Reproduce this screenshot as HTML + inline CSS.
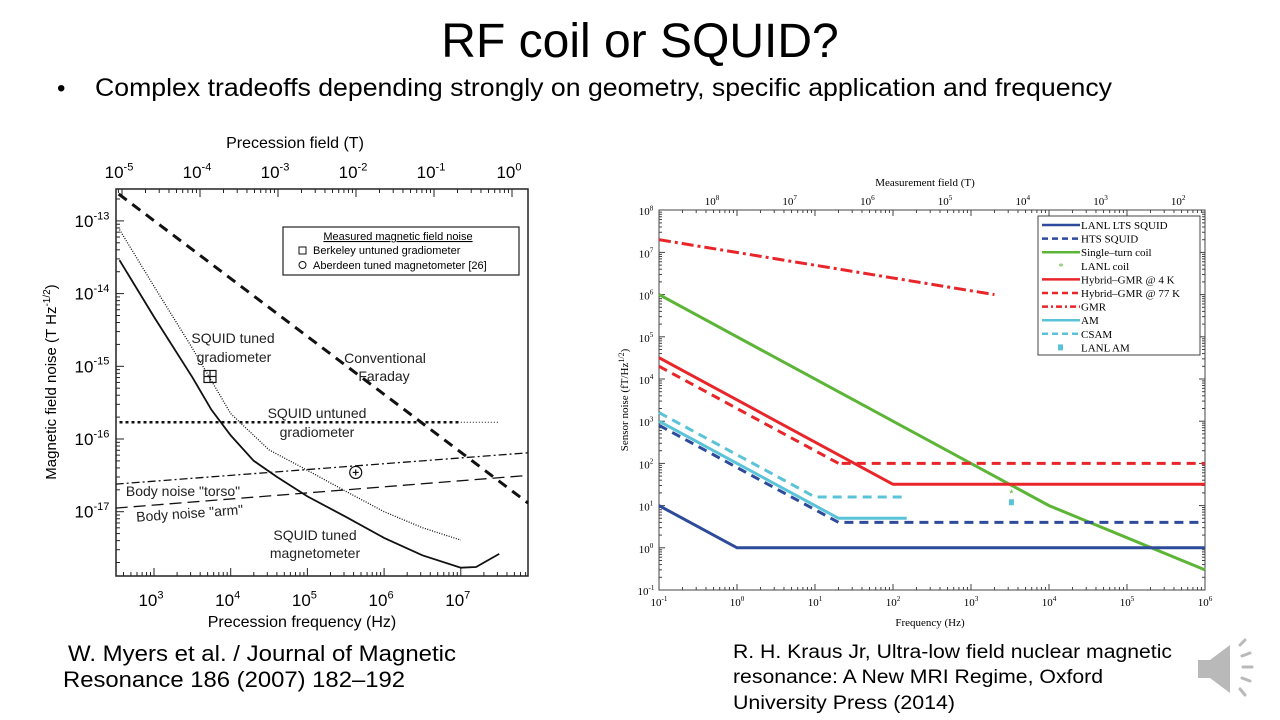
<!DOCTYPE html>
<html><head><meta charset="utf-8"><style>
body{margin:0;width:1280px;height:720px;background:#fff;overflow:hidden;font-family:"Liberation Sans",sans-serif}
svg{position:absolute;left:0;top:0}
</style></head><body>
<svg id="s" width="1280" height="720" xmlns="http://www.w3.org/2000/svg">
<text x="640" y="57" font-size="48" text-anchor="middle" fill="#000">RF coil or SQUID?</text>
<text x="57" y="96" font-size="24">•</text>
<text x="95" y="96" font-size="25" textLength="1017" lengthAdjust="spacingAndGlyphs">Complex tradeoffs depending strongly on geometry, specific application and frequency</text>
<g font-size="22"><text x="68" y="661" textLength="388" lengthAdjust="spacingAndGlyphs">W. Myers et al. / Journal of Magnetic</text><text x="63" y="687" textLength="342" lengthAdjust="spacingAndGlyphs">Resonance 186 (2007) 182–192</text></g>
<g font-size="19"><text x="733" y="658" textLength="439" lengthAdjust="spacingAndGlyphs">R. H. Kraus Jr, Ultra-low field nuclear magnetic</text><text x="733" y="683" textLength="370" lengthAdjust="spacingAndGlyphs">resonance: A New MRI Regime, Oxford</text><text x="733" y="709" textLength="222" lengthAdjust="spacingAndGlyphs">University Press (2014)</text></g>
<g fill="#b9b9b9" stroke="#b9b9b9" stroke-linecap="round">
<polygon points="1198,660 1210,660 1230,645 1230,693 1210,678 1198,678" stroke="none"/>
<g stroke-width="3"><line x1="1240" y1="645" x2="1245" y2="640"/><line x1="1242" y1="656" x2="1250" y2="653"/><line x1="1243" y1="667" x2="1252" y2="667"/><line x1="1242" y1="678" x2="1250" y2="681"/><line x1="1240" y1="689" x2="1245" y2="695"/></g></g>
<g id="L"></g>
<g id="R"></g>
</svg>
<script>
// ---------- LEFT CHART DATA (log10 values) ----------
const lFaraday=[[2.54,-12.63],[7.876,-16.88]];
const lUntuned=[[2.55,-15.77],[7.0,-15.77]];
const lUntunedExt=[[7.0,-15.77],[7.5,-15.77]];
const lTunedGrad=[[2.55,-13.12],[3,-13.9],[3.5,-14.75],[4,-15.65],[4.5,-16.15],[5,-16.43],[5.5,-16.72],[6,-17.0],[6.5,-17.22],[7,-17.39]];
const lTunedMag=[[2.55,-13.54],[3,-14.32],[3.5,-15.15],[3.75,-15.6],[4,-15.95],[4.3,-16.3],[4.6,-16.52],[5,-16.79],[5.5,-17.07],[6,-17.36],[6.5,-17.6],[7,-17.77],[7.2,-17.76],[7.5,-17.58]];
const lTorso=[[2.5,-16.62],[7.876,-16.19]];
const lArm=[[2.5,-16.95],[7.876,-16.5]];
const lBerkeley=[3.73,-15.14];
const lAberdeen=[5.63,-16.46];
const lXTicks=[3,4,5,6,7];
const lYTicks=[-13,-14,-15,-16,-17];
const lTopTicks=[-5,-4,-3,-2,-1,0];
// ---------- RIGHT CHART DATA ----------
const rLTS=[[0.1,10],[1,1],[1e6,1]];
const rHTS=[[0.1,800],[20,4],[1e6,4]];
const rCoil=[[0.1,1e6],[1e4,10],[1e6,0.3]];
const rLanlCoil=[3300,20];
const rGMR4=[[0.1,32000],[100,32],[1e6,32]];
const rGMR77a=[[0.1,20000],[20,100]];
const rGMR77b=[[22,100],[1e6,100]];
const rGMR=[[0.1,2e7],[2000,1e6]];
const rAM=[[0.1,1000],[20,5],[150,5]];
const rCSAM=[[0.1,1600],[10,16],[150,16]];
const rLanlAM=[3300,12];
const rXTicks=[-1,0,1,2,3,4,5,6];
const rYTicks=[8,7,6,5,4,3,2,1,0,-1];
const rTopTicks=[8,7,6,5,4,3,2];
const NS="http://www.w3.org/2000/svg";
function mk(p,t,a){const e=document.createElementNS(NS,t);for(const k in a)e.setAttribute(k,a[k]);p.appendChild(e);return e;}
function sup(p,x,y,b,ex,fs,font,name){const t=mk(p,'text',{x:x,y:y,'font-size':fs,'text-anchor':'middle','font-family':font});


t.innerHTML=b+'<tspan dy="-'+(fs*0.45)+'" font-size="'+(fs*0.65)+'">'+ex+'</tspan>';return t;}
// left axes
const L=document.getElementById('L');
const lx=v=>154+(v-3)*76.7, ly=v=>439-(v+16)*72.7, ltx=v=>512+v*78;
function lpath(d,attrs,name){const e=mk(L,'path',Object.assign({d:'M'+d.map(p=>lx(p[0]).toFixed(1)+','+ly(p[1]).toFixed(1)).join('L'),fill:'none',stroke:'#111'},attrs));

}
let f=mk(L,'rect',{x:116,y:189,width:412,height:387,fill:'none',stroke:'#222','stroke-width':1.5});


for(let d=2;d<8;d++)for(let m=1;m<10;m++){const v=d+Math.log10(m);const x=lx(v);if(x<116||x>528)continue;const h=m==1?8:4;mk(L,'line',{x1:x,x2:x,y1:576,y2:576-h,stroke:'#222'});}
for(let d=-6;d<1;d++)for(let m=1;m<10;m++){const x=ltx(d+Math.log10(m));if(x<116||x>528)continue;const h=m==1?8:4;mk(L,'line',{x1:x,x2:x,y1:189,y2:189+h,stroke:'#222'});}
for(let d=-18;d<-12;d++)for(let m=1;m<10;m++){const y=ly(d+Math.log10(m));if(y<189||y>576)continue;const h=m==1?8:4;mk(L,'line',{x1:116,x2:116+h,y1:y,y2:y,stroke:'#222'});}
lXTicks.forEach(v=>sup(L,lx(v)-3,606,'10',v,17,'Liberation Sans','x-tick-label'));
lYTicks.forEach(v=>sup(L,92,ly(v)+6,'10',v,17,'Liberation Sans','y-tick-label'));
lTopTicks.forEach(v=>sup(L,ltx(v)-3,178,'10',v,17,'Liberation Sans','top-tick-label'));
let t=mk(L,'text',{x:295,y:148,'font-size':16,'text-anchor':'middle'});t.textContent='Precession field (T)';

t=mk(L,'text',{x:302,y:627,'font-size':16,'text-anchor':'middle'});t.textContent='Precession frequency (Hz)';

t=mk(L,'text',{x:0,y:0,'font-size':15,'text-anchor':'middle',transform:'translate(56,382) rotate(-90)'});t.innerHTML='Magnetic field noise (T Hz<tspan dy="-6" font-size="10">-1/2</tspan><tspan dy="6">)</tspan>';

lpath(lFaraday,{'stroke-width':3,'stroke-dasharray':'10,7'},'faraday-line');
lpath(lUntuned,{'stroke-width':2.5,'stroke-dasharray':'3,3'},'squid-untuned-line');
lpath(lUntunedExt,{'stroke-width':1,'stroke-dasharray':'1,2'},'squid-untuned-ext');
lpath(lTunedGrad,{'stroke-width':1.3,'stroke-dasharray':'1,1.5'},'squid-tuned-gradiometer-line');
lpath(lTunedMag,{'stroke-width':1.8},'squid-tuned-magnetometer-line');
lpath(lTorso,{'stroke-width':1.3,'stroke-dasharray':'8,3,2,3'},'body-torso-line');
lpath(lArm,{'stroke-width':1.3,'stroke-dasharray':'12,6'},'body-arm-line');
let bx=lx(lBerkeley[0]),by=ly(lBerkeley[1]);
const bk=mk(L,'g',{stroke:'#111',fill:'none','stroke-width':1.2});
mk(bk,'rect',{x:bx-6,y:by-6,width:12,height:12});mk(bk,'line',{x1:bx,x2:bx,y1:by-6,y2:by+6});mk(bk,'line',{x1:bx-6,x2:bx+6,y1:by,y2:by});
let ax=lx(lAberdeen[0]),ay=ly(lAberdeen[1]);
const ab=mk(L,'g',{stroke:'#111',fill:'none','stroke-width':1.2});
mk(ab,'circle',{cx:ax,cy:ay,r:6});mk(ab,'line',{x1:ax,x2:ax,y1:ay-3,y2:ay+3});mk(ab,'line',{x1:ax-3,x2:ax+3,y1:ay,y2:ay});
[['SQUID tuned',233,343],['gradiometer',234,362],['Conventional',385,363],['Faraday',384,381],['SQUID untuned',317,418],['gradiometer',317,437],['Body noise "torso"',183,496],['SQUID tuned',315,540],['magnetometer',315,558]].forEach(a=>{const e=mk(L,'text',{x:a[1],y:a[2],'font-size':14,'text-anchor':'middle',fill:'#222'});e.textContent=a[0];
});
t=mk(L,'text',{x:190,y:518,'font-size':14,'text-anchor':'middle',fill:'#222',transform:'rotate(-4 190 518)'});t.textContent='Body noise "arm"';

const lg=mk(L,'g',{});
mk(lg,'rect',{x:283,y:227,width:236,height:48,fill:'#fff',stroke:'#222','stroke-width':1.2});
t=mk(lg,'text',{x:398,y:240,'font-size':11,'text-anchor':'middle','text-decoration':'underline'});t.textContent='Measured magnetic field noise';
t=mk(lg,'text',{x:313,y:254,'font-size':11});t.textContent='Berkeley untuned gradiometer';
t=mk(lg,'text',{x:313,y:269,'font-size':11});t.textContent='Aberdeen tuned magnetometer [26]';
mk(lg,'rect',{x:299,y:247,width:7,height:7,fill:'none',stroke:'#111'});mk(lg,'circle',{cx:302.5,cy:265,r:3.5,fill:'none',stroke:'#111'});
// right chart
const R=document.getElementById('R');
const rx=v=>659+(Math.log10(v)+1)*78, ry=v=>590-(Math.log10(v)+1)*42.2;
const SER="Liberation Serif";
f=mk(R,'rect',{x:659,y:210,width:546,height:380,fill:'none',stroke:'#444','stroke-width':1});

for(let d=-1;d<6;d++)for(let m=1;m<10;m++){const x=rx(Math.pow(10,d)*m);const h=m==1?6:3;mk(R,'line',{x1:x,x2:x,y1:590,y2:590-h,stroke:'#444'});mk(R,'line',{x1:x,x2:x,y1:210,y2:210+h,stroke:'#444'});}
for(let d=-1;d<8;d++)for(let m=1;m<10;m++){const y=ry(Math.pow(10,d)*m);const h=m==1?6:3;mk(R,'line',{x1:659,x2:659+h,y1:y,y2:y,stroke:'#444'});mk(R,'line',{x1:1205,x2:1205-h,y1:y,y2:y,stroke:'#444'});}
rXTicks.forEach(v=>sup(R,rx(Math.pow(10,v)),606,'10',v,11,SER,'x-tick-label'));
rYTicks.forEach(v=>sup(R,646,ry(Math.pow(10,v))+5,'10',v,11,SER,'y-tick-label'));
rTopTicks.forEach((v,i)=>sup(R,712+i*77.7,205,'10',v,11,SER,'top-tick-label'));
t=mk(R,'text',{x:925,y:186,'font-size':11,'text-anchor':'middle','font-family':SER});t.textContent='Measurement field (T)';

t=mk(R,'text',{x:930,y:626,'font-size':11,'text-anchor':'middle','font-family':SER});t.textContent='Frequency (Hz)';

t=mk(R,'text',{x:0,y:0,'font-size':11,'text-anchor':'middle','font-family':SER,transform:'translate(628,400) rotate(-90)'});t.innerHTML='Sensor noise (fT/Hz<tspan dy="-4" font-size="8">1/2</tspan><tspan dy="4">)</tspan>';

const BL='#2e4b9b',GR='#5db538',RD='#e8262a',CY='#5bc3d8';
function rpath(d,c,da,name){const e=mk(R,'path',{d:'M'+d.map(p=>rx(p[0]).toFixed(1)+','+ry(p[1]).toFixed(1)).join('L'),fill:'none',stroke:c,'stroke-width':3,'stroke-dasharray':da});

}
rpath(rGMR,RD,'12,4,3,4','gmr-line');
rpath(rCoil,GR,'none','single-turn-coil-line');
rpath(rGMR4,RD,'none','hybrid-gmr-4k-line');
rpath(rGMR77a,RD,'9,6','hybrid-gmr-77k-line');
rpath(rGMR77b,RD,'9,6','hybrid-gmr-77k-flat');
rpath(rCSAM,CY,'9,6','csam-line');
rpath(rHTS,BL,'9,6','hts-squid-line');
rpath(rAM,CY,'none','am-line');
rpath(rLTS,BL,'none','lanl-lts-squid-line');
t=mk(R,'text',{x:rx(rLanlCoil[0]),y:ry(rLanlCoil[1])+4,'font-size':11,fill:GR,'text-anchor':'middle'});t.textContent='*';

const sq=mk(R,'rect',{x:rx(rLanlAM[0])-2.5,y:ry(rLanlAM[1])-3,width:5,height:6,fill:CY});

const rl=mk(R,'g',{'font-family':SER,'font-size':11});
mk(rl,'rect',{x:1038,y:216,width:162,height:139,fill:'#fff',stroke:'#444'});
[['LANL LTS SQUID',BL,'none'],['HTS SQUID',BL,'6,4'],['Single–turn coil',GR,'none'],['LANL coil',GR,'pt'],['Hybrid–GMR @ 4 K',RD,'none'],['Hybrid–GMR @ 77 K',RD,'6,4'],['GMR',RD,'6,3,2,3'],['AM',CY,'none'],['CSAM',CY,'6,4'],['LANL AM',CY,'sq']].forEach((e,i)=>{const y=225+i*13.6;
if(e[2]=='pt'){const s=mk(rl,'text',{x:1061,y:y+4,fill:e[1],'text-anchor':'middle','font-size':10});s.textContent='*';}
else if(e[2]=='sq'){mk(rl,'rect',{x:1058,y:y-3,width:5,height:6,fill:e[1]});}
else mk(rl,'line',{x1:1042,x2:1080,y1:y,y2:y,stroke:e[1],'stroke-width':2.5,'stroke-dasharray':e[2]});
const tx=mk(rl,'text',{x:1081,y:y+4});tx.textContent=e[0];});
</script>
</body></html>
